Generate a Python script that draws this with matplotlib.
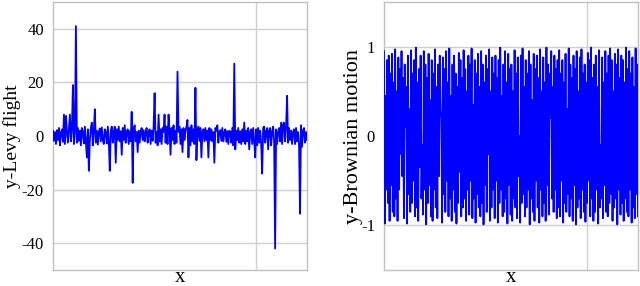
import numpy as np
import matplotlib
matplotlib.use("Agg")
import matplotlib.pyplot as plt

plt.rcParams['font.family'] = ['Liberation Serif', 'DejaVu Serif']

levy = [
    2.0, -1.8, 1.5, -3.0, 2.2, -1.5, 3.0, -3.5, 1.3, 2.5, -2.2, 8.0, -3.0, 7.5, 1.8, -2.5,
    3.0, 8.0, -2.0, 2.5, 19.0, -3.0, 1.5, 41.0, -2.5, 3.0, -1.8, 2.0, -3.5, 3.0, 1.5, -2.8,
    3.5, -2.0, -8.0, 2.5, -13.0, -1.5, 3.0, 5.0, -3.5, 1.8, 10.0, -2.5, 2.0, -3.2, 1.5, 2.8,
    -2.0, 3.2, -1.5, -3.0, 2.5, 1.3, -2.8, 3.5, -1.8, -13.0, 2.0, 3.5, -2.5, 1.5, 3.5, -10.0,
    2.5, -1.5, 3.5, -2.0, 1.8, -7.0, 3.0, -1.5, 4.0, -2.5, 1.5, 2.5, -3.0, 1.8, -2.0, 9.0,
    -17.5, 3.0, 4.0, -2.0, 1.5, -6.0, 2.0, -2.5, 1.8, 3.0, -1.5, 2.2, -2.0, 1.3, 3.0, -2.5,
    1.5, 2.5, -3.0, 2.0, -1.8, 3.5, 16.0, -2.5, 1.5, -3.5, 8.0, -2.0, 2.5, -3.0, 3.0, 1.5,
    8.0, -2.5, 3.5, -3.0, 8.0, 2.0, -7.0, 3.0, -1.5, 4.0, -3.0, 2.0, -2.5, 24.0, 1.5, 3.5,
    -3.0, 2.5, -6.0, 3.0, -1.5, 2.0, 3.5, 6.0, -8.0, 3.0, -3.5, 4.0, -2.0, 2.5, -3.0, 18.0,
    -9.0, 2.0, 3.5, -1.8, 3.0, -8.0, 1.5, 2.5, -2.0, 3.0, -1.5, 2.0, -8.0, 3.0, -1.5, 2.5,
    -2.0, 1.5, -10.0, 3.0, 2.0, 4.0, -2.5, 1.5, 2.2, -1.8, 3.0, -2.0, 1.3, 2.5, -2.2, 1.8,
    -3.0, 2.0, 1.5, -2.5, 3.0, -3.5, 27.0, -5.0, 2.0, -1.5, 3.0, -2.5, 1.8, -3.0, 2.5, -2.0,
    5.0, -3.0, 2.0, -2.0, 3.0, -5.0, 1.5, 2.5, -3.0, 3.0, -2.0, -8.0, 2.5, -3.5, 3.0, -2.5,
    2.0, -3.0, -14.0, 3.0, 3.5, -2.5, 1.5, 3.0, -5.0, 2.0, 3.0, -3.5, 1.5, 3.5, -2.0, -42.0,
    2.5, -3.0, 1.5, 3.0, -2.0, 5.0, -3.0, 4.5, 5.0, -2.0, 3.5, 15.0, -2.5, 3.0, -1.5, 2.0,
    -3.0, 1.5, 2.5, -3.0, 3.0, -2.0, 1.5, -3.0, -29.0, 4.0, -4.0, 2.0, 3.0, -2.5, 1.5, -1.5,
]

brownian = [
    0.95, -0.98, 0.45, -0.6, 0.85, -0.75, 0.9, -0.95, 0.7, -0.55, 0.92, -0.85, 0.6, -0.9, 0.97, -0.7, 0.5, -0.95, 0.88, -0.6,
    0.75, -0.2, 0.95, -0.45, 0.65, -0.92, 0.8, 0.1, 0.55, -0.98, 0.9, -0.65, 0.3, -0.85, 0.96, -0.75, 0.7, -0.5, 0.85, -0.9,
    0.99, -0.8, 0.6, -0.95, 0.75, -0.35, 0.9, -0.7, -0.1, -0.88, 0.95, -0.6, 0.8, -0.99, 0.65, -0.75, 0.92, -0.55, 0.4, -0.9,
    0.85, -0.95, 0.7, -0.6, 0.97, -0.8, 0.55, -0.92, 0.8, -0.45, 0.9, 0.3, 0.2, -0.97, 0.88, -0.65, 0.75, -0.85, 0.95, -0.5,
    0.6, -0.9, 0.98, -0.7, 0.45, -0.95, 0.8, -0.6, 0.9, -0.85, 0.7, -0.98, 0.55, -0.75, 0.93, -0.4, 0.85, -0.9, 0.65, -0.8,
    0.96, -0.7, 0.75, -0.95, 0.5, -0.6, 0.9, -0.88, 0.8, -0.5, 0.98, -0.92, 0.35, -0.7, 0.85, -0.97, 0.7, -0.65, 0.92, -0.8,
    0.55, -0.9, 0.95, -0.75, 0.8, -0.99, 0.6, -0.55, 0.9, -0.85, 0.75, -0.2, 0.97, -0.95, 0.5, -0.8, 0.88, -0.6, 0.7, -0.92,
    0.9, -0.5, 0.65, -0.97, 0.85, -0.75, 0.99, -0.6, 0.45, -0.9, 0.8, -0.85, 0.95, -0.7, 0.6, -0.98, 0.92, -0.55, 0.75, -0.88,
    0.8, -0.95, 0.5, -0.7, 0.96, -0.8, 0.7, -0.92, 0.88, -0.45, 0.0, -0.97, 0.9, -0.75, 0.98, -0.65, 0.55, -0.9, 0.85, -0.8,
    0.7, -0.6, 0.95, -0.99, 0.8, -0.7, 0.4, -0.85, 0.92, -0.95, 0.75, -0.5, 0.9, -0.8, 0.65, -0.97, 0.97, -0.6, 0.5, -0.9,
    0.88, -0.75, 0.6, -0.95, 0.99, -0.55, 0.8, -0.88, 0.7, 0.2, 0.95, -0.7, 0.55, -0.85, 0.9, -0.6, 0.75, -0.92, 0.85, -0.8,
    0.96, -0.9, 0.7, -0.5, 0.85, -0.97, 0.6, -0.75, 0.92, -0.85, 0.3, -0.65, 0.98, -0.9, 0.8, -0.7, 0.65, -0.95, 0.9, -0.55,
    0.75, -0.99, 0.95, -0.8, 0.5, -0.7, 0.88, -0.92, 0.97, -0.6, 0.7, -0.85, 0.8, -0.96, 0.6, -0.75, 0.93, -0.5, 0.85, -0.9,
    0.99, -0.7, 0.65, -0.95, 0.8, -0.85, 0.9, -0.6, 0.55, -0.98, 0.96, -0.8, -0.1, -0.7, 0.88, -0.92, 0.6, -0.55, 0.95, -0.85,
    0.7, -0.9, 0.9, -0.75, 0.98, -0.65, 0.85, -0.95, 0.5, -0.8, 0.92, -0.7, 0.8, -0.99, 0.97, -0.6, 0.65, -0.88, 0.9, -0.75,
    0.85, -0.95, 0.6, -0.7, 0.99, -0.85, 0.75, -0.9, 0.95, -0.6, 0.7, -0.97, 0.88, -0.8, 0.55, -0.92, 0.98, -0.65, 0.8, -0.9,
]

levy_yticks = [-40, -20, 0, 20, 40]
brown_yticks = [-1, 0, 1]

fig = plt.figure(figsize=(6.4, 2.86), dpi=100)
ax1 = fig.add_axes([53/640, 16/286, 254/640, 268/286])
ax2 = fig.add_axes([384/640, 16/286, 254/640, 268/286])

grid_c = '#d0d0d0'
spine_c = '#c0c0c0'

for ax, data, yt, ylim, lab, lab_fs, lab_x in [
    (ax1, levy, levy_yticks, (-50, 50), 'y-Levy flight', 14, (21.5 - 53) / 254),
    (ax2, brownian, brown_yticks, (-1.5, 1.5), 'y-Brownian motion', 16, (363 - 384) / 254),
]:
    x = np.arange(len(data))
    ax.plot(x, data, color='#0000ff', lw=1.3, zorder=3)
    ax.set_xlim(0, len(data) - 1)
    ax.set_ylim(*ylim)
    ax.set_yticks(yt)
    ax.set_yticklabels([str(v) for v in yt], fontsize=12)
    ax.set_xticks([0.8 * (len(data) - 1)])
    ax.set_xticklabels([''])
    ax.tick_params(length=0, pad=6.5)
    ax.grid(True, color=grid_c, lw=1.0, zorder=0)
    ax.set_axisbelow(True)
    for s in ax.spines.values():
        s.set_color(spine_c)
        s.set_linewidth(1.0)
    ax.set_xlabel('x', fontsize=15)
    ax.xaxis.label.set_va('baseline')
    ax.xaxis.set_label_coords(0.5, -11.5 / 268)
    ax.set_ylabel(lab, fontsize=lab_fs)
    ax.yaxis.set_label_coords(lab_x, 0.5)

fig.savefig('out.png', dpi=100)
